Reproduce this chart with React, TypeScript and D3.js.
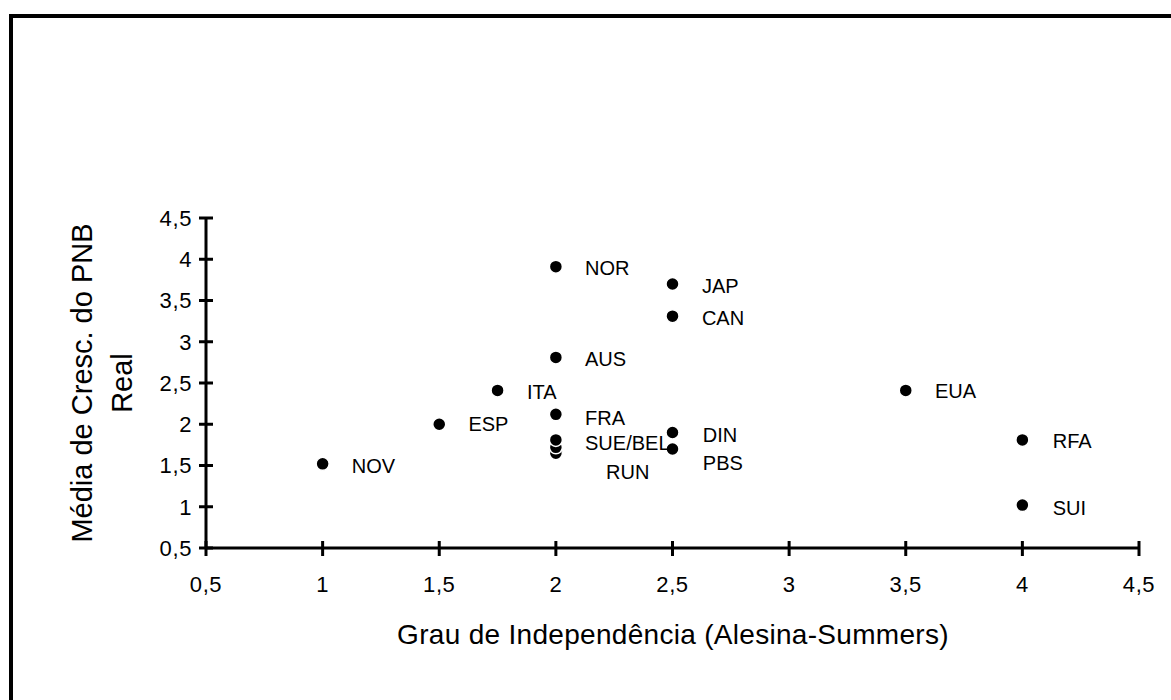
import React from "react";
import * as d3 from "d3";

const countries = ["NOV", "ESP", "ITA", "NOR", "AUS", "FRA", "RUN", "BEL", "SUE/BEL", "JAP", "CAN", "DIN", "PBS", "EUA", "RFA", "SUI"];
const independence = [1, 1.5, 1.75, 2, 2, 2, 2, 2, 2, 2.5, 2.5, 2.5, 2.5, 3.5, 4, 4];
const growth = [1.52, 2.0, 2.41, 3.91, 2.81, 2.12, 1.65, 1.72, 1.81, 3.7, 3.31, 1.9, 1.7, 2.41, 1.81, 1.02];
// label anchor positions, in data units
const labelX = [1.125, 1.625, 1.876, 2.125, 2.125, 2.125, 2.215, NaN, 2.125, 2.626, 2.626, 2.63, 2.63, 3.625, 4.13, 4.13];
const labelY = [1.5, 2.0, 2.39, 3.9, 2.79, 2.08, 1.42, NaN, 1.77, 3.68, 3.29, 1.87, 1.53, 2.4, 1.8, 0.99];
const showLabel = [true, true, true, true, true, true, true, false, true, true, true, true, true, true, true, true];

const xTicks = [0.5, 1, 1.5, 2, 2.5, 3, 3.5, 4, 4.5];
const yTicks = [0.5, 1, 1.5, 2, 2.5, 3, 3.5, 4, 4.5];
const xTitle = "Grau de Independência (Alesina-Summers)";
const yTitleLines = ["Média de Cresc. do PNB", "Real"];

const fmt = (v: number) => String(v).replace(".", ",");

export default function App() {
  const W = 1171, H = 700;
  const x = d3.scaleLinear().domain([0.5, 4.5]).range([206, 1139]);
  const y = d3.scaleLinear().domain([0.5, 4.5]).range([548, 218]);
  const font = "'Liberation Sans', Arial, sans-serif";
  const order = d3.range(countries.length);

  return (
    <svg width={W} height={H} style={{ position: "absolute", left: 0, top: 0, background: "#fff" }} fontFamily={font}>
      <rect width={W} height={H} fill="#fff" />
      {/* frame */}
      <path d={`M11,${H} L11,16 L${W},16`} fill="none" stroke="#000" strokeWidth={4} />

      {/* axes */}
      <line x1={x(0.5)} x2={x(4.5)} y1={y(0.5)} y2={y(0.5)} stroke="#000" strokeWidth={3} />
      <line x1={x(0.5)} x2={x(0.5)} y1={y(0.5)} y2={y(4.5)} stroke="#000" strokeWidth={3} />
      {xTicks.map((t) => (
        <g key={"xt" + t}>
          <line x1={x(t)} x2={x(t)} y1={y(0.5) - 7} y2={y(0.5) + 8} stroke="#000" strokeWidth={3} />
          <text x={x(t)} y={592} textAnchor="middle" fontSize={22} letterSpacing={0.6}>{fmt(t)}</text>
        </g>
      ))}
      {yTicks.map((t) => (
        <g key={"yt" + t}>
          <line x1={x(0.5) - 7} x2={x(0.5) + 7} y1={y(t)} y2={y(t)} stroke="#000" strokeWidth={3} />
          <text x={192} y={y(t)} dy="0.36em" textAnchor="end" fontSize={22} letterSpacing={0.6}>{fmt(t)}</text>
        </g>
      ))}

      {/* titles */}
      <text x={673} y={644} textAnchor="middle" fontSize={28} letterSpacing={0.3}>{xTitle}</text>
      {yTitleLines.map((l, i) => (
        <text key={l} transform={`translate(${92 + i * 40},383) rotate(-90)`} textAnchor="middle" fontSize={29}>{l}</text>
      ))}

      {/* points */}
      {order.map((i) => (
        <circle key={"p" + i} cx={x(independence[i])} cy={y(growth[i])} r={6.5} fill="#000" stroke="#fff" strokeWidth={1.5} />
      ))}
      {order.filter((i) => showLabel[i]).map((i) => (
        <text key={"l" + i} x={x(labelX[i])} y={y(labelY[i])} dy="0.36em" fontSize={20}>{countries[i]}</text>
      ))}
    </svg>
  );
}
